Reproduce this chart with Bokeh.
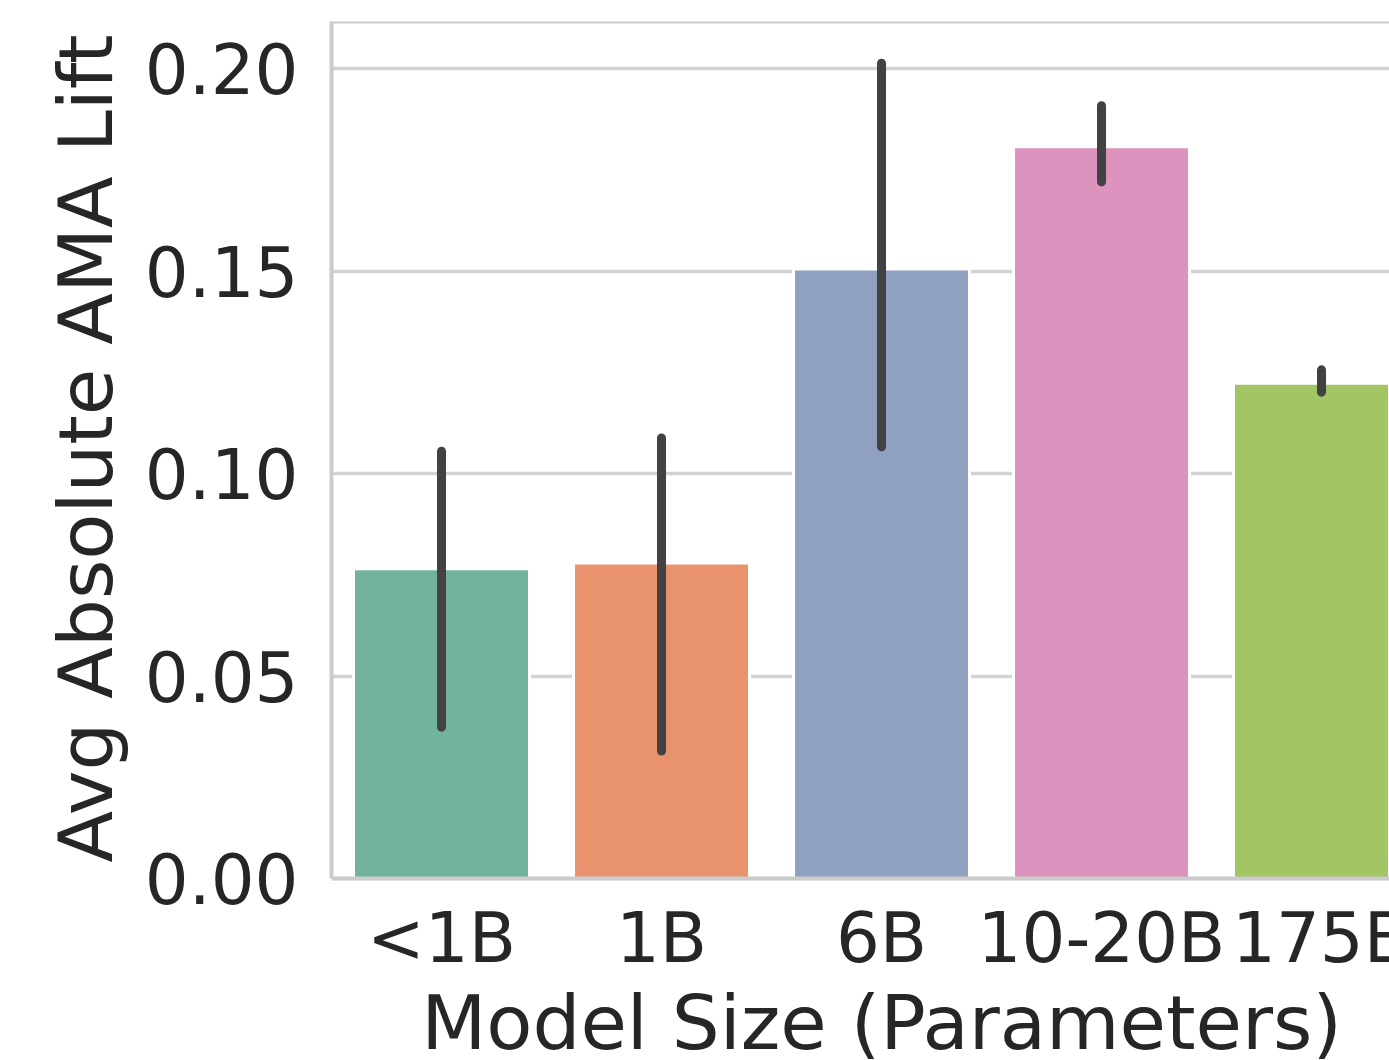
from bokeh.plotting import figure
from bokeh.models import Range1d, FixedTicker, Span, ColumnDataSource, Title
from bokeh.core.properties import value
from bokeh.embed import file_html
from bokeh.resources import INLINE

categories = ["<1B", "1B", "6B", "10-20B", "175B"]
means = [0.0765, 0.0779, 0.1505, 0.1807, 0.1223]
err_low = [0.0374, 0.0315, 0.1066, 0.1720, 0.1201]
err_high = [0.1055, 0.1088, 0.2013, 0.1908, 0.1256]
colors = ["#72b39e", "#e8936e", "#90a0c1", "#dc93bd", "#a3c564"]
y_ticks = [0.0, 0.05, 0.10, 0.15, 0.20]
y_tick_labels = ["0.00", "0.05", "0.10", "0.15", "0.20"]
x_title = "Model Size (Parameters)"
y_title = "Avg Absolute AMA Lift"

x_pos = list(range(len(categories)))
Y_TOP = 0.2116
Y_BOTTOM = -0.0449   # room below zero for the category labels

src = ColumnDataSource(dict(x=x_pos, top=means, lo=err_low, hi=err_high, color=colors,
                            zero=[0.0] * len(x_pos), label=categories))

p = figure(width=1389, height=1060, output_backend="svg", toolbar_location=None,
           x_range=Range1d(-0.5, 4.309), y_range=Range1d(Y_BOTTOM, Y_TOP),
           min_border_left=331, min_border_right=0, min_border_top=21, min_border_bottom=0)
p.outline_line_color = None
p.background_fill_color = "white"
p.border_fill_color = "white"

font = "DejaVu Sans"
text_color = "#262626"
tick_size = "69px"
label_size = "75.5px"

p.vbar(x="x", top="top", bottom=0, width=0.8, fill_color="color", line_color="white",
       line_width=3, source=src)
p.segment(x0="x", y0="lo", x1="x", y1="hi", line_color="#424242", line_width=9,
          line_cap="round", source=src)

# spines
p.add_layout(Span(location=Y_TOP, dimension="width", line_color="#cccccc", line_width=4))
p.add_layout(Span(location=0, dimension="width", line_color="#cccccc", line_width=4))

# category labels and x title
p.text(x="x", y="zero", text="label", source=src, text_align="center",
       text_baseline="alphabetic", y_offset=59, text_font=value(font),
       text_font_size=value(tick_size), text_color=text_color)
p.text(x=[(x_pos[0] + x_pos[-1]) / 2], y=[0.0], text=[x_title], text_align="center",
       text_baseline="alphabetic", y_offset=144, text_font=value(font),
       text_font_size=value(label_size), text_color=text_color)
p.xaxis.visible = False
p.xgrid.grid_line_color = None

yax = p.yaxis[0]
yax.bounds = (0, Y_TOP)
yax.ticker = FixedTicker(ticks=y_ticks)
yax.major_label_overrides = {t: l for t, l in zip(y_ticks, y_tick_labels)}
yax.major_tick_line_color = None
yax.minor_tick_line_color = None
yax.axis_line_color = "#cccccc"
yax.axis_line_width = 4
yax.major_label_text_font = font
yax.major_label_text_font_size = tick_size
yax.major_label_text_color = text_color
yax.major_label_standoff = 27

# y title placed as a side title so it can sit centred on the 0..top span
p.add_layout(Title(text=y_title, align="left", offset=198, standoff=23,
                   text_font=font, text_font_size=label_size, text_font_style="normal",
                   text_color=text_color), "left")

p.ygrid.ticker = FixedTicker(ticks=y_ticks)
p.ygrid.grid_line_color = "#d3d3d3"
p.ygrid.grid_line_width = 3.5

open("out.html", "w").write(file_html(p, INLINE))
